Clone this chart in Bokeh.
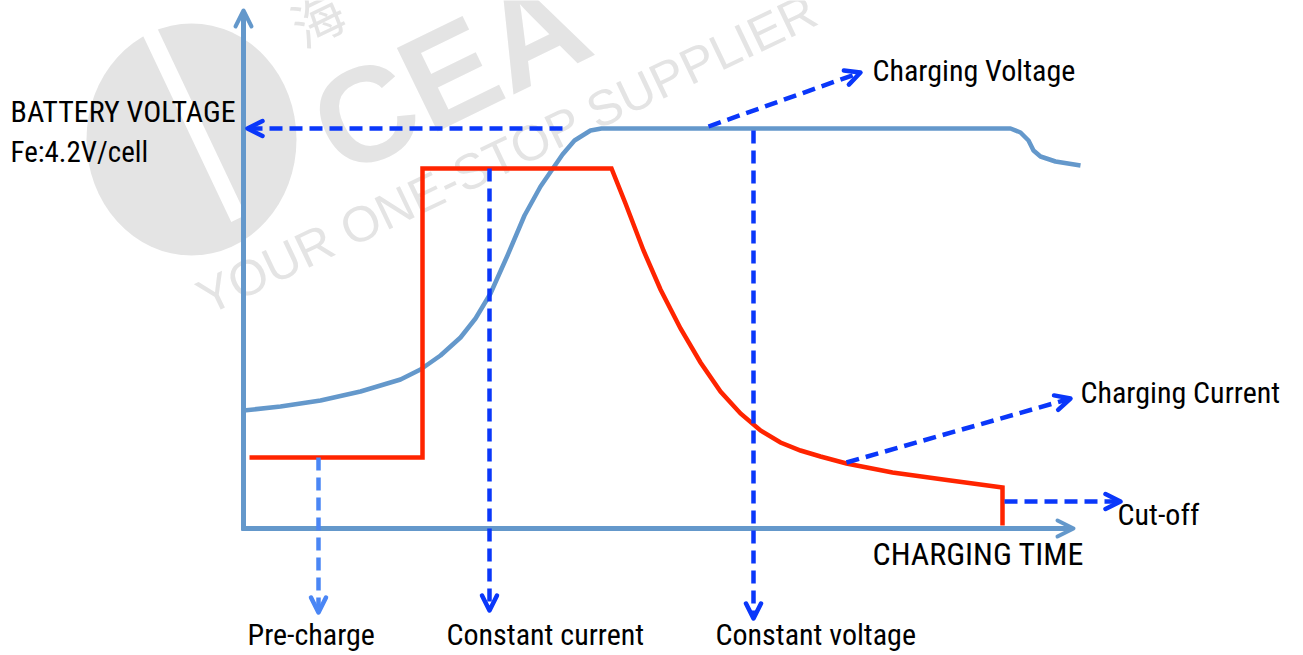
from bokeh.plotting import figure
from bokeh.models import Range1d, Arrow, OpenHead
from bokeh.core.properties import value
from bokeh.embed import file_html
from bokeh.resources import INLINE
import math

# ---- data (time units along the x axis, level units along the y axis) ----
voltage_t = [0, 37, 77, 117, 157, 177, 197, 217, 232, 247, 264, 281, 297, 308, 319, 331, 347, 358,
             767, 777, 785, 790, 797, 812, 837]
voltage_v = [118, 122, 128, 137, 149, 159, 173, 191, 210, 235, 273, 313, 342, 358, 374, 388, 398, 400,
             400, 396, 388, 378, 372, 367, 363]

current_t = [6, 179, 179, 368, 382, 400, 417, 437, 457, 477, 497, 517, 537, 557, 577, 603, 649, 707, 759, 759]
current_v = [71, 71, 360, 360, 325, 278, 239, 200, 166, 137, 115, 98, 86, 78, 72, 65, 56, 48, 41, 3]

precharge_t = 75
cc_t = 246
cv_t = 510
cv_level = 400
cc_level = 360
pre_level = 71
cutoff_t = 759

phase_labels = ["Pre-charge", "Constant current", "Constant voltage"]
y_title = ["BATTERY VOLTAGE", "Fe:4.2V/cell"]
x_title = "CHARGING TIME"

AXIS = "#6498CB"
RED = "#FF2400"
DASH = "#0A37FA"
DASH2 = "#4A86F5"
FONT = "'Liberation Sans Narrow', 'Arial Narrow', 'Roboto Condensed', Roboto"

p = figure(width=1303, height=655, output_backend="svg", toolbar_location=None,
           x_range=Range1d(-243, 1060), y_range=Range1d(-127, 528),
           x_axis_type=None, y_axis_type=None, min_border=0)
p.outline_line_color = None
p.xgrid.visible = False
p.ygrid.visible = False
p.background_fill_color = "white"

# ---- watermark ----
WM = "#E4E4E4"
p.ellipse(x=-52, y=389, width=210, height=232, fill_color=WM, line_color=None)
p.line(x=[-95, -5], y=[500, 310], line_color="white", line_width=16)
p.text(x=[78], y=[392], text=["CEA"], angle=math.radians(26), text_color=WM,
       text_font=value("Liberation Sans"), text_font_style="bold", text_font_size="135px",
       text_baseline="alphabetic", text_align="left")
p.text(x=[50], y=[500], text=["海"], angle=math.radians(26), text_color=WM,
       text_font=value("Noto Sans CJK SC"), text_font_size="52px",
       text_baseline="middle", text_align="left")
p.text(x=[-43], y=[228], text=["YOUR ONE-STOP SUPPLIER"], angle=math.radians(25.5), text_color=WM,
       text_font=value("Liberation Sans"), text_font_size="50px",
       text_baseline="alphabetic", text_align="left")

# ---- axes with arrows ----
p.add_layout(Arrow(x_start=0, y_start=-2, x_end=0, y_end=518, line_color=AXIS, line_width=5,
                   end=OpenHead(size=16, line_color=AXIS, line_width=4, line_cap="round", line_join="round")))
p.add_layout(Arrow(x_start=-2, y_start=0, x_end=830, y_end=0, line_color=AXIS, line_width=5,
                   end=OpenHead(size=16, line_color=AXIS, line_width=4, line_cap="round", line_join="round")))

# ---- curves ----
p.line(voltage_t, voltage_v, line_color=AXIS, line_width=4.5, line_join="round")
p.line(current_t, current_v, line_color=RED, line_width=4.5, line_join="miter")

# ---- dashed arrows ----
def darrow(x0, y0, x1, y1, color=DASH):
    p.add_layout(Arrow(x_start=x0, y_start=y0, x_end=x1, y_end=y1, line_color=color, line_width=4.5,
                       line_dash="13 7",
                       end=OpenHead(size=15, line_color=color, line_width=4.5,
                                    line_cap="round", line_join="round")))

darrow(319, cv_level, 4, cv_level)
darrow(465, cv_level + 2, 617, 456)
darrow(cv_t, cv_level - 2, cv_t, -90)
darrow(cc_t, cc_level, cc_t, -82)
darrow(precharge_t, pre_level, precharge_t, -84, DASH2)
darrow(603, 66, 827, 130)
darrow(cutoff_t + 2, 27, 877, 27)

# ---- labels ----
def label(x, y, s, size="30px"):
    p.text(x=[x], y=[y], text=[s], text_font=value(FONT), text_font_size=size,
           text_color="black", text_baseline="middle", text_align="left")

label(-233, 417, y_title[0], "30px")
label(-233, 377, y_title[1], "29px")
label(629, 458, "Charging Voltage")
label(837, 136, "Charging Current")
label(874, 14, "Cut-off")
label(629, -25, x_title, "32px")
label(4, -106, phase_labels[0])
label(203, -106, phase_labels[1])
label(472, -106, phase_labels[2])

open("out.html", "w").write(file_html(p, INLINE))
